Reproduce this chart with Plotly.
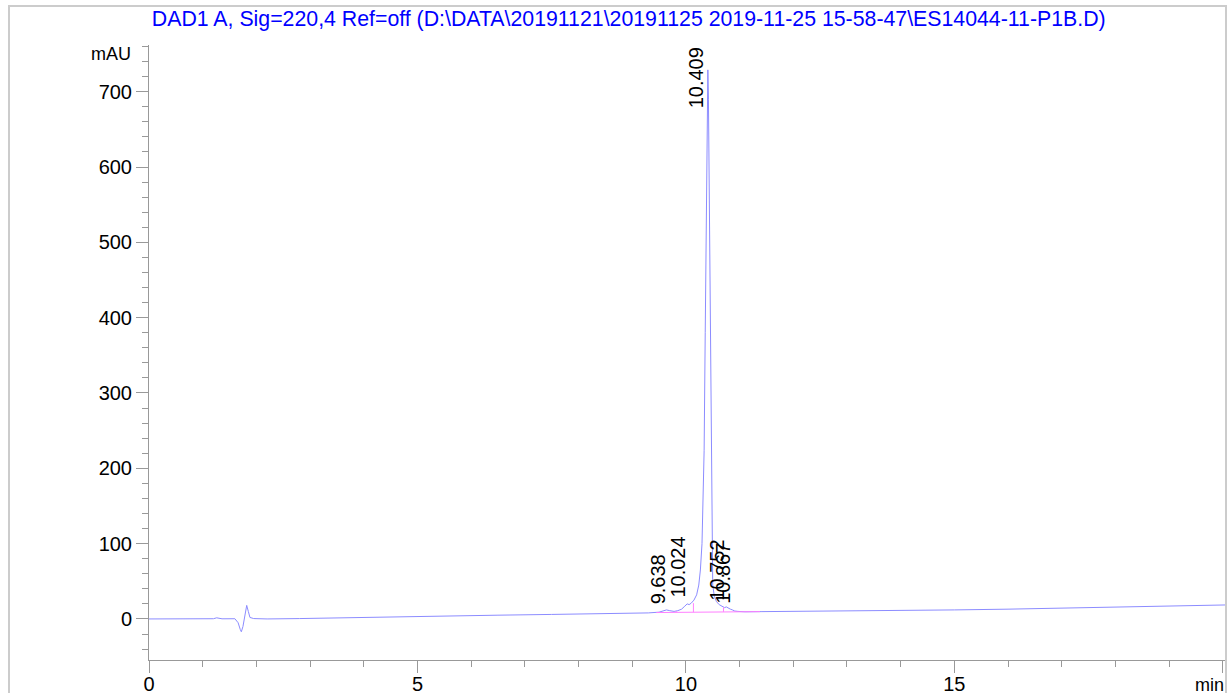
import plotly.graph_objects as go

# Chromatogram trace: retention time (min) and detector signal (mAU)
time_min = [0, 0.5, 1.0, 1.2, 1.26, 1.3, 1.36, 1.6, 1.66, 1.70, 1.72, 1.75, 1.78, 1.80,
            1.82, 1.85, 1.88, 1.95, 2.2, 2.8, 3.5, 4.5, 5.5, 6.5, 7.5, 8.5, 9.0, 9.3,
            9.5, 9.6, 9.638, 9.7, 9.78, 9.85, 9.92, 9.98, 10.024, 10.06, 10.10, 10.15,
            10.20, 10.24, 10.27, 10.30, 10.32, 10.34, 10.36, 10.37, 10.38, 10.39, 10.40,
            10.409, 10.42, 10.43, 10.44, 10.45, 10.46, 10.47, 10.48, 10.49, 10.50, 10.53,
            10.57, 10.62, 10.68, 10.72, 10.752, 10.79, 10.83, 10.867, 10.91, 10.97, 11.1,
            11.4, 12, 13, 14, 15, 16, 17, 18, 19, 20.06]
signal_mau = [0, 0, 0.2, 0.3, 1.5, 1.0, 0.2, 0.3, -5, -14, -17, -10, 3, 14,
              18, 10, 2, 0.5, 0, 0.5, 1.5, 3, 4, 5, 6, 7, 7.5, 8,
              9, 11, 12, 11, 10, 11, 13, 17, 20, 19, 21, 25,
              32, 45, 65, 100, 150, 224, 380, 470, 560, 640, 700,
              729, 690, 610, 540, 470, 360, 224, 140, 80, 45, 30,
              23, 19, 16, 15, 16, 14, 13, 12, 10.5, 10, 9.5,
              9.7, 10, 10.5, 10.6, 12, 13, 14.5, 15.5, 17, 18.6]

# Integrated peaks
peak_rt = [9.638, 10.024, 10.409, 10.752, 10.867]
peak_height = [12, 20, 729, 16, 12]
peak_labels = ["9.638", "10.024", "10.409", "10.752", "10.867"]

# Integration baseline and peak drop lines (None separates segments)
baseline_t = [9.45, 11.38, None, 9.82, 9.82, None, 10.14, 10.14, None,
              10.70, 10.70, None, 10.92, 10.92]
baseline_v = [8.5, 9.7, None, 8.9, 10.5, None, 9.0, 21, None,
              9.4, 15.5, None, 9.5, 10.5]

Y_RANGE = [-54.5, 762]
X_RANGE = [0, 20.06]
FONT = "Arial, Liberation Sans, sans-serif"

fig = go.Figure()
fig.add_trace(go.Scatter(x=time_min, y=signal_mau, mode="lines",
                         line=dict(color="#8c8cff", width=1), hoverinfo="x+y"))
fig.add_trace(go.Scatter(x=baseline_t, y=baseline_v, mode="lines",
                         line=dict(color="#ff80ff", width=1), hoverinfo="skip"))

for rt, h, lab in zip(peak_rt, peak_height, peak_labels):
    if h > 600:
        fig.add_annotation(x=rt, y=Y_RANGE[1], text=lab, textangle=-90, showarrow=False,
                           xanchor="right", yanchor="top", xshift=1,
                           font=dict(family=FONT, size=20, color="black"))
    else:
        fig.add_annotation(x=rt, y=h, text=lab, textangle=-90, showarrow=False,
                           xanchor="right", yanchor="bottom", yshift=4, xshift=4,
                           font=dict(family=FONT, size=20, color="black"))

fig.add_annotation(xref="paper", yref="paper", x=-0.0149, y=0.9854, text="mAU",
                   showarrow=False, xanchor="right", yanchor="middle",
                   font=dict(family=FONT, size=18, color="black"))
fig.add_annotation(xref="paper", yref="paper", x=1.0, y=-0.0407, text="min",
                   showarrow=False, xanchor="right", yanchor="middle",
                   font=dict(family=FONT, size=18, color="black"))

# Outer frame
fig.add_shape(type="rect", xref="paper", yref="paper", x0=-0.130, x1=1.0,
              y0=-0.2, y1=1.0634, line=dict(color="#cccccc", width=2))

axis_common = dict(showgrid=False, zeroline=False, showline=True, linecolor="#999999",
                   linewidth=1, ticks="outside", ticklen=12, tickcolor="#999999",
                   automargin=False,
                   tickfont=dict(family=FONT, size=20, color="black"))

fig.update_layout(
    width=1228, height=693,
    margin=dict(l=149, r=2, t=45, b=33, autoexpand=False),
    paper_bgcolor="white", plot_bgcolor="white",
    showlegend=False,
    title=dict(text="DAD1 A, Sig=220,4 Ref=off (D:\\DATA\\20191121\\20191125 2019-11-25 15-58-47\\ES14044-11-P1B.D)",
               x=0.512, xanchor="center", y=1 - 19 / 693, yanchor="middle",
               font=dict(family=FONT, size=21.3, color="#0000ff")),
    xaxis=dict(range=X_RANGE, tick0=0, dtick=5, ticklabelstandoff=-6,
               minor=dict(dtick=1, ticks="outside", ticklen=6, tickcolor="#999999"),
               **axis_common),
    yaxis=dict(range=Y_RANGE, tick0=0, dtick=100,
               minor=dict(dtick=20, ticks="outside", ticklen=6, tickcolor="#999999"),
               **axis_common),
)

fig.write_html("out.html")
